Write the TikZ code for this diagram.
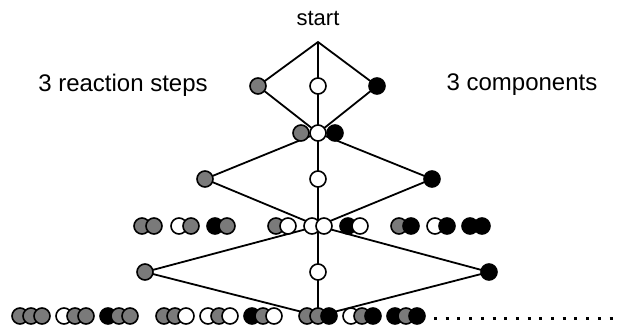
\documentclass[tikz,border=0pt]{standalone}
\usepackage{fontspec}
\setmainfont{Liberation Sans}
\usetikzlibrary{positioning, backgrounds}
\definecolor{ballgray}{RGB}{122,122,122}

\begin{document}
\begin{tikzpicture}[x=1pt,y=-1pt,node distance=12pt,on grid,
    ball/.style={circle,draw,line width=1.6pt,minimum size=16pt,inner sep=0pt},
    gball/.style={ball,fill=ballgray},
    wball/.style={ball,fill=white},
    bball/.style={ball,fill=black},
    link/.style={line width=1.8pt},
    lbl/.style={font=\fontsize{24}{28}\selectfont}]
      \useasboundingbox (0,0) rectangle (621,330);
      % labels
      \node[font=\fontsize{22}{26}\selectfont] (start) at (318,18) {start};
      \node[lbl] (steps) at (123,85) {3 reaction steps};
      \node[lbl] (comps) at (522,85) {3 components};
      \coordinate (top) at (318,42);
      % step 1
      \node[gball] (g1) at (258,86) {};
      \node[wball] (w1) at (318,86) {};
      \node[bball] (b1) at (377,86) {};
      \node[gball] (m1g) at (301,133) {};
      \node[bball] (m1b) at (335,133) {};
      \node[wball] (m1w) at (318,133) {};
      % step 2
      \node[gball] (g2) at (205,179) {};
      \node[wball] (w2) at (318,179) {};
      \node[bball] (b2) at (432,179) {};
      \node[gball] (p1a) at (142,226) {}; \node[gball] (p1b) [right=of p1a] {};
      \node[wball] (p2a) at (179,226) {}; \node[gball] (p2b) [right=of p2a] {};
      \node[bball] (p3a) at (215,226) {}; \node[gball] (p3b) [right=of p3a] {};
      \node[gball] (p4a) at (276,226) {}; \node[wball] (p4b) [right=of p4a] {};
      \node[wball] (p5a) at (312,226) {}; \node[wball] (p5b) [right=of p5a] {};
      \node[bball] (p6a) at (348,226) {}; \node[wball] (p6b) [right=of p6a] {};
      \node[gball] (p7a) at (399,226) {}; \node[bball] (p7b) [right=of p7a] {};
      \node[wball] (p8a) at (435,226) {}; \node[bball] (p8b) [right=of p8a] {};
      \node[bball] (p9a) at (470,226) {}; \node[bball] (p9b) [right=of p9a] {};
      \coordinate (j2) at (318,226);
      % step 3
      \node[gball] (g3) at (145,272) {};
      \node[wball] (w3) at (318,272) {};
      \node[bball] (b3) at (489,272) {};
      \node[gball] (t1a) at (20,316) {};  \node[gball] (t1b) [right=11pt of t1a] {}; \node[gball] (t1c) [right=11pt of t1b] {};
      \node[wball] (t2a) at (64,316) {};  \node[gball] (t2b) [right=11pt of t2a] {}; \node[gball] (t2c) [right=11pt of t2b] {};
      \node[bball] (t3a) at (108,316) {}; \node[gball] (t3b) [right=11pt of t3a] {}; \node[gball] (t3c) [right=11pt of t3b] {};
      \node[gball] (t4a) at (164,316) {}; \node[gball] (t4b) [right=11pt of t4a] {}; \node[wball] (t4c) [right=11pt of t4b] {};
      \node[wball] (t5a) at (208,316) {}; \node[gball] (t5b) [right=11pt of t5a] {}; \node[wball] (t5c) [right=11pt of t5b] {};
      \node[bball] (t6a) at (252,316) {}; \node[gball] (t6b) [right=11pt of t6a] {}; \node[wball] (t6c) [right=11pt of t6b] {};
      \node[gball] (t7a) at (307,316) {}; \node[gball] (t7b) [right=11pt of t7a] {}; \node[bball] (t7c) [right=11pt of t7b] {};
      \node[wball] (t8a) at (351,316) {}; \node[gball] (t8b) [right=11pt of t8a] {}; \node[bball] (t8c) [right=11pt of t8b] {};
      \node[bball] (t9a) at (395,316) {}; \node[gball] (t9b) [right=11pt of t9a] {}; \node[bball] (t9c) [right=11pt of t9b] {};
      \coordinate (dotsL) at (434,318);
      \coordinate (dotsR) at (616,318);
      \draw[line width=3pt, dash pattern=on 3pt off 8.7pt] (dotsL) -- (dotsR);
      % connectors behind the balls
      \begin{pgfonlayer}{background}
      \fill[white] (0,0) rectangle (621,330);
      \draw[link] (top) -- (g1.center) -- (m1w.center) -- (b1.center) -- cycle;
      \draw[link] (top) -- (t7b.center);
      \draw[link] (m1w.center) -- (g2.center) -- (j2) -- (b2.center) -- cycle;
      \draw[link] (j2) -- (g3.center) -- (t7b.center) -- (b3.center) -- cycle;
      \end{pgfonlayer}
\end{tikzpicture}
\end{document}
